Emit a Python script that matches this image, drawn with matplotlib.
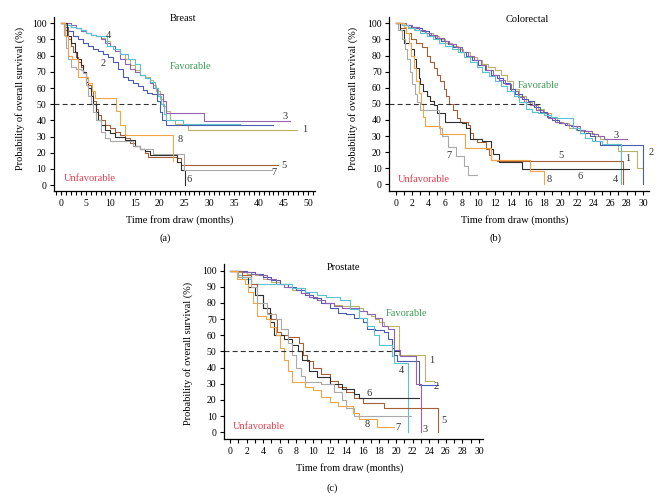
import matplotlib
matplotlib.use('Agg')
import matplotlib.pyplot as plt
from matplotlib.ticker import MultipleLocator

plt.rcParams['font.family'] = ['Liberation Serif', 'DejaVu Serif']

# ---- Breast (months, % survival) ----
br1_t = [0, 1, 2, 3, 4, 5, 6, 7, 8, 9, 10, 11, 12, 13, 14, 15, 16, 17, 18, 18.6, 19.3, 20, 20.6, 21.2, 22, 23, 25.8, 47.7]
br1_s = [100, 99, 98, 97, 96, 94, 93, 92, 91, 89, 86, 84, 81, 78, 74, 71, 68, 67, 65, 62, 58, 53, 49, 46, 40, 38, 34, 34]
br2_t = [0, 0.5, 1.5, 2.5, 3.5, 4.5, 5.5, 6.5, 7.5, 8.5, 9.5, 10.5, 11.5, 12.5, 13.5, 14.5, 15.5, 16.5, 17.5, 18.5, 19.5, 20, 20.5, 21.2, 43]
br2_s = [100, 98, 95, 92, 90, 88, 86, 84, 83, 81, 79, 76, 72, 67, 65, 63, 61, 59, 57, 56, 52, 45, 40, 37, 37]
br3_t = [0, 2, 3, 4, 5, 6, 7, 8, 9, 10, 11, 12, 13, 14, 15, 16, 17, 18, 18.6, 19.5, 20.6, 21.3, 29, 46.3]
br3_s = [100, 99, 97, 95, 94, 93, 92, 90, 88, 86, 83, 78, 75, 72, 70, 68, 66, 63, 60, 56, 52, 44.5, 39.5, 39.5]
br4_t = [0, 1, 2, 3, 4, 5, 6, 7, 8.8, 9.3, 10.5, 12, 13.5, 15, 16, 17, 18, 19, 19.7, 20.3, 20.8, 21.3, 24.7, 36.3]
br4_s = [100, 99, 98, 97, 96, 94, 93, 92, 92, 86, 84, 81, 78, 75, 68, 66, 64, 60, 55, 50, 44, 40, 38, 38]
br5_t = [0, 0.9, 1.5, 2, 2.5, 3, 3.5, 4, 4.5, 5, 5.5, 6, 6.5, 7, 7.5, 8, 9, 10, 11, 12, 13, 14, 15, 16, 17, 17.7, 23.4, 24.3, 44]
br5_s = [100, 96, 90, 86, 82, 79, 76, 73, 70, 66, 62, 58, 52, 47, 43, 40, 37, 35, 33, 31, 29, 26, 24, 22, 20, 17.5, 16.5, 12.5, 12.5]
br6_t = [0, 0.8, 1.3, 2, 2.8, 3.3, 4, 4.5, 5, 5.5, 6, 6.5, 7, 7.5, 8, 9, 10, 11, 13, 15, 16, 17, 18, 23.5, 24.2, 25]
br6_s = [100, 100, 92, 88, 82, 78, 74, 70, 64, 60, 55, 50, 45, 40, 37, 34, 32, 30, 28, 24, 22, 21, 18.5, 14, 9.5, 0]
br7_t = [0, 0.5, 1, 1.5, 2, 3, 4, 4.5, 5, 5.5, 6, 6.5, 7, 8, 9, 10, 14.5, 16, 18.6, 24.8, 42.8]
br7_s = [100, 93, 85, 78, 73, 72, 71, 69, 62, 55, 50, 45, 40, 33, 29, 27, 24, 22, 19.5, 9.5, 9.5]
br8_t = [0, 0.8, 1.5, 2.3, 3.5, 5.5, 6.2, 6.9, 11.2, 11.9, 12.9, 22.7, 22.7]
br8_s = [100, 92, 80, 78, 67, 63, 58, 54, 46, 37, 31, 31, 15]

# ---- Colorectal ----
cr1_t = [0, 0.8, 1.5, 2.2, 3.0, 3.7, 4.5, 5.2, 6.0, 6.8, 7.5, 8.2, 9.0, 9.8, 10.5, 11.2, 12.0, 12.7, 13.5, 14.2, 15.0, 15.8, 16.5, 17.3, 18.0, 18.8, 19.5, 20.3, 21.0, 21.8, 22.5, 23.3, 24.0, 24.8, 25.6, 27.0, 29.2, 29.8]
cr1_s = [100, 99, 98, 96, 95, 94, 92, 90, 88, 86, 84, 82, 79, 77, 75, 73, 71, 68, 64, 59, 55, 51, 49, 47, 44, 41, 39, 38, 35, 34, 33, 32, 30, 28, 25, 20.5, 10, 10]
cr2_t = [0, 1.0, 1.8, 2.5, 3.2, 4.0, 4.8, 5.5, 6.3, 7.0, 7.8, 8.5, 9.3, 10.0, 10.8, 11.5, 12.3, 13.0, 13.8, 14.5, 15.3, 16.0, 16.8, 17.5, 18.3, 19.0, 19.8, 20.5, 21.3, 22.0, 22.8, 23.5, 24.2, 24.8, 30.0]
cr2_s = [100, 99, 98, 97, 95, 93, 91, 89, 87, 85, 82, 80, 77, 74, 71, 68, 66, 63, 59, 56, 53, 52, 48, 45, 42, 40, 38, 37, 36, 34, 32, 30, 27, 24.5, 0]
cr3_t = [0, 1.2, 2.0, 2.8, 3.5, 4.3, 5.0, 5.8, 6.5, 7.3, 8.0, 8.8, 9.5, 10.3, 11.0, 11.8, 12.5, 13.3, 14.0, 14.8, 15.5, 16.3, 17.0, 17.8, 18.5, 19.3, 20.0, 20.8, 21.5, 22.3, 23.0, 23.8, 24.5, 25.3, 28.0]
cr3_s = [100, 99, 98, 96, 94, 93, 91, 89, 87, 85, 82, 80, 77, 74, 71, 68, 65, 62, 58, 54, 51, 49, 46, 44, 41, 39, 38, 37, 36, 34, 33, 31, 30, 28, 28]
cr4_t = [0, 0.8, 1.5, 2.3, 3.0, 3.8, 4.5, 5.3, 6.0, 6.8, 7.5, 8.3, 9.0, 9.8, 10.5, 11.3, 12.0, 12.8, 13.5, 14.3, 15.0, 15.8, 16.5, 17.3, 18.0, 18.8, 19.5, 20.3, 21.5, 22.3, 23.0, 23.8, 25.0, 27.3]
cr4_s = [100, 99, 97, 96, 94, 92, 90, 88, 86, 84, 82, 79, 76, 73, 70, 67, 64, 61, 58, 55, 51, 47, 45, 44, 43, 42, 41, 41, 35, 32, 29, 27, 25, 0]
cr5_t = [0, 0.5, 1.2, 1.8, 2.5, 3.2, 3.8, 4.2, 4.6, 5.0, 5.4, 5.8, 6.1, 6.4, 6.9, 7.4, 7.8, 8.7, 9.0, 9.4, 9.8, 11.0, 11.3, 11.6, 12.3, 27.5]
cr5_s = [100, 97, 94, 90, 88, 85, 80, 76, 72, 68, 64, 59, 55, 50, 46, 41, 39, 37, 32, 28, 26, 22, 18, 15, 14.5, 0]
cr6_t = [0, 0.5, 1.0, 1.8, 2.2, 2.5, 2.8, 3.0, 3.3, 3.8, 4.2, 4.6, 5.0, 6.0, 8.0, 8.5, 9.0, 10.5, 11.5, 11.8, 12.5, 15.3, 28.3]
cr6_s = [100, 96, 88, 84, 78, 72, 66, 62, 58, 55, 52, 49, 44, 39, 38, 35, 28, 27, 22, 19, 14, 9.5, 9.5]
cr7_t = [0, 0.3, 0.8, 1.1, 1.4, 1.7, 2.0, 2.3, 2.6, 2.9, 5.2, 5.6, 6.3, 7.3, 8.3, 8.8, 9.9]
cr7_s = [100, 96, 90, 84, 78, 70, 62, 56, 51, 46, 35, 30, 23, 17.5, 11.5, 6, 6]
cr8_t = [0, 1.0, 1.3, 1.6, 1.9, 2.2, 2.5, 2.8, 3.1, 3.3, 3.6, 5.4, 8.4, 11.6, 16.3, 18.0]
cr8_s = [100, 98, 94, 88, 80, 72, 64, 57, 50, 42, 36, 31, 22.5, 14.8, 8, 0]

# ---- Prostate ----
pr1_t = [0, 1.0, 2.0, 3.0, 4.0, 5.0, 6.0, 7.0, 7.5, 8.5, 9.5, 10.5, 11.5, 12.5, 13.5, 15.5, 16.0, 16.5, 17.0, 17.5, 18.0, 18.5, 20.4, 23.5, 24.6]
pr1_s = [100, 99, 98, 97, 95, 93, 92, 90, 88, 86, 84, 82, 80, 79, 78, 77, 75, 73, 72, 70, 68, 66, 48, 32, 32]
pr2_t = [0, 1, 2, 3, 4, 5, 6, 7, 8, 9, 10, 11, 12, 13, 14, 15, 16, 16.5, 17.5, 18.5, 19.0, 19.5, 19.8, 20.1, 22.8, 25.1]
pr2_s = [100, 100, 99, 98, 96, 94, 92, 90, 88, 85, 83, 80, 77, 74, 73, 71, 68, 64, 63, 62, 58, 52, 48, 44, 29, 29]
pr3_t = [0, 1.5, 2.5, 3.5, 4.5, 5.5, 6.5, 7.5, 8.5, 9.5, 10.5, 11.5, 12.5, 13.5, 15.5, 16.5, 17.5, 18.3, 19.0, 19.7, 20.5, 22.4, 23.0]
pr3_s = [100, 99, 98, 97, 95, 92, 90, 89, 86, 84, 82, 80, 78, 77, 75, 73, 71, 66, 64, 51, 47, 30, 0]
pr4_t = [0, 0.8, 1.5, 2.5, 7.5, 9.0, 10.5, 11.6, 13.3, 14.5, 15.5, 16.5, 17.3, 18.0, 19.5, 19.7, 21.5]
pr4_s = [100, 97, 95, 92, 89, 87, 85, 84, 82, 76, 71, 66, 60, 54, 47, 43, 0]
pr5_t = [0, 1.5, 2.5, 3.3, 4.0, 4.5, 5.0, 5.7, 6.2, 7.0, 8.3, 8.8, 9.3, 10.0, 11.0, 12.0, 13.0, 14.0, 15.0, 16.0, 18.5, 25.1]
pr5_s = [100, 97, 92, 85, 77, 74, 70, 62, 60, 59, 55, 48, 44, 40, 36, 32, 28, 25, 21, 18, 15, 0]
pr6_t = [0, 1.0, 2.2, 3.0, 4.0, 4.8, 5.3, 6.5, 7.5, 8.2, 8.7, 9.5, 10.5, 12.0, 13.5, 15.0, 15.5, 22.8]
pr6_s = [100, 96, 90, 85, 77, 68, 60, 58, 54, 50, 45, 38, 34, 30, 27, 24, 21, 21]
pr7_t = [0, 1.0, 2.5, 3.3, 4.5, 5.5, 6.2, 7.0, 7.5, 8.0, 8.5, 9.0, 11.0, 12.5, 13.5, 14.0, 14.9, 21.8]
pr7_s = [100, 96, 90, 80, 73, 70, 64, 55, 48, 40, 35, 31, 30, 25, 20, 15, 10, 10]
pr8_t = [0, 0.8, 1.8, 2.2, 2.8, 3.2, 4.3, 4.8, 5.5, 6.0, 6.5, 7.0, 7.5, 9.0, 10.0, 11.0, 12.0, 13.0, 14.8, 15.5, 17.7, 19.8]
pr8_s = [100, 95, 92, 87, 80, 72, 70, 65, 60, 52, 45, 38, 31, 28, 26, 22, 19, 16, 12, 8.5, 3.5, 3.5]

# curve labels (number, x, y) in data coords
br_labels = [('4', 9.5, 92.5), ('2', 8.5, 75), ('3', 45.3, 42.4), ('1', 49.3, 34.3),
             ('8', 24.1, 28.1), ('5', 45.1, 12), ('7', 43.1, 7.7), ('6', 25.9, 3.4)]
cr_labels = [('3', 26.7, 30.6), ('2', 31.0, 19.6), ('1', 28.1, 16.1), ('5', 20.0, 17.8),
             ('7', 6.4, 17.8), ('6', 22.3, 4.7), ('8', 18.6, 3.3), ('4', 26.6, 3.3)]
pr_labels = [('1', 24.3, 44.3), ('4', 20.6, 38.5), ('2', 24.8, 28.2), ('6', 16.8, 23.7),
             ('5', 25.8, 7.6), ('8', 16.5, 4.9), ('7', 20.2, 2.8), ('3', 23.5, 2.0)]

colors = ['#bab36a', '#4b5cae', '#9163b3', '#58c4d2', '#a3603a', '#2e2e2e', '#a9a9a9', '#f2a446']
green = '#3d9a55'
red = '#e4404e'

fig = plt.figure(figsize=(6.62, 4.99), dpi=100)


def panel(rect, xlim, ylim, xmajor, curves, labels, title, tpos, fav, unfav, dash_end, ylab_x, ylab_y):
    ax = fig.add_axes(rect)
    for i, (t, s) in enumerate(curves):
        ax.step(t, s, where='post', color=colors[i], lw=0.8)
    # median line
    ax.plot([xlim[0], dash_end], [50, 50], color='#333333', lw=0.8, ls=(0, (4.5, 2.8)))
    for txt, x, y in labels:
        ax.text(x, y, txt, fontsize=7.5, color='#333333', ha='center', va='center')
    ax.text(tpos[0], tpos[1], title, fontsize=7.5, ha='center', va='center')
    ax.text(fav[0], fav[1], 'Favorable', fontsize=7.5, color=green, ha='center', va='center')
    ax.text(unfav[0], unfav[1], 'Unfavorable', fontsize=7.5, color=red, ha='center', va='center')
    ax.set_xlim(xlim)
    ax.set_ylim(ylim)
    ax.xaxis.set_major_locator(MultipleLocator(xmajor))
    ax.xaxis.set_minor_locator(MultipleLocator(1))
    ax.yaxis.set_major_locator(MultipleLocator(10))
    ax.spines['top'].set_visible(False)
    ax.spines['right'].set_visible(False)
    for sp in ['left', 'bottom']:
        ax.spines[sp].set_linewidth(0.9)
    ax.tick_params(axis='both', which='both', direction='out', length=3, width=0.8, labelsize=7)
    ax.tick_params(axis='x', which='both', pad=3)
    ax.tick_params(axis='y', pad=2.5)
    ax.text(0.483, -0.167, 'Time from draw (months)', transform=ax.transAxes,
            fontsize=7.5, ha='center', va='center')
    ax.text(ylab_x, ylab_y, 'Probability of overall survival (%)', transform=ax.transAxes,
            fontsize=7.5, rotation=90, ha='center', va='center')
    return ax


panel([0.0816, 0.6172, 0.3943, 0.3487], (-1.42, 51.42), (-3.7, 103.9), 5,
      [(br1_t, br1_s), (br2_t, br2_s), (br3_t, br3_s), (br4_t, br4_s),
       (br5_t, br5_s), (br6_t, br6_s), (br7_t, br7_s), (br8_t, br8_s)],
      br_labels, 'Breast', (24.7, 102.8), (26.3, 73.5), (5.9, 4.0), 19.3, -0.130, 0.53)

panel([0.5881, 0.6172, 0.3923, 0.3487], (-0.776, 30.7), (-4.16, 103.9), 2,
      [(cr1_t, cr1_s), (cr2_t, cr2_s), (cr3_t, cr3_s), (cr4_t, cr4_s),
       (cr5_t, cr5_s), (cr6_t, cr6_s), (cr7_t, cr7_s), (cr8_t, cr8_s)],
      cr_labels, 'Colorectal', (15.9, 102.5), (17.3, 61.6), (3.4, 3.1), 17.5, -0.140, 0.53)

panel([0.3388, 0.1202, 0.3908, 0.3507], (-0.687, 30.48), (-4.15, 104.1), 2,
      [(pr1_t, pr1_s), (pr2_t, pr2_s), (pr3_t, pr3_s), (pr4_t, pr4_s),
       (pr5_t, pr5_s), (pr6_t, pr6_s), (pr7_t, pr7_s), (pr8_t, pr8_s)],
      pr_labels, 'Prostate', (13.65, 102.1), (21.3, 73.2), (3.5, 3.5), 20.5, -0.140, 0.49)

fig.text(165 / 662, 1 - 238 / 499, '(a)', fontsize=7.5, ha='center', va='center')
fig.text(496 / 662, 1 - 238 / 499, '(b)', fontsize=7.5, ha='center', va='center')
fig.text(332 / 662, 1 - 488 / 499, '(c)', fontsize=7.5, ha='center', va='center')

fig.savefig('out.png', dpi=100)
